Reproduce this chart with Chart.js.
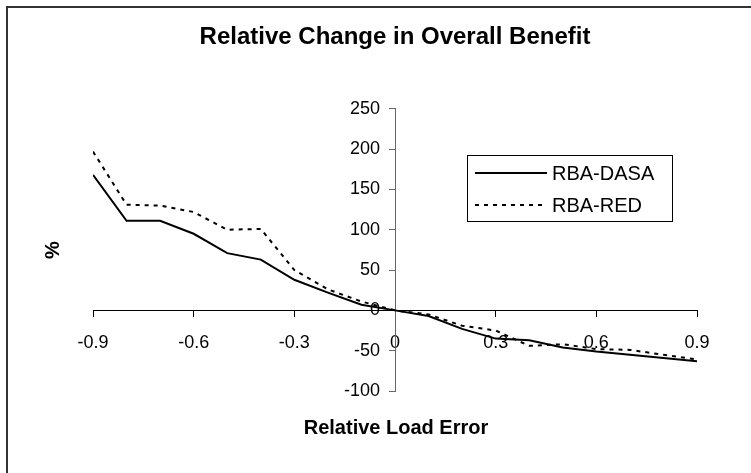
<!DOCTYPE html>
<html>
<head>
<meta charset="utf-8">
<title>Relative Change in Overall Benefit</title>
<script src="https://cdn.jsdelivr.net/npm/chart.js@4.4.1/dist/chart.umd.min.js"></script>
<style>
  html, body { margin: 0; padding: 0; background: #fff; overflow: hidden; }
  canvas { display: block; }
</style>
</head>
<body>
<canvas id="benefitChart" width="751" height="473"></canvas>
<script>
// values
const loadError = [-0.9, -0.8, -0.7, -0.6, -0.5, -0.4, -0.3, -0.2, -0.1, 0,
                   0.1, 0.2, 0.3, 0.4, 0.5, 0.6, 0.7, 0.8, 0.9];
const rbaDasa = [168, 111, 111, 95, 71, 63, 38, 22, 7, 0,
                 -7, -23, -35, -37, -46, -51, -55, -59, -63];
const rbaRed = [197, 131, 130, 122, 100, 101, 50, 26, 11, 0,
                -5, -19, -25, -44, -42, -48, -49, -55, -61];
const seriesNames = ['RBA-DASA', 'RBA-RED'];
const chartTitle = 'Relative Change in Overall Benefit';
const xTitle = 'Relative Load Error';
const yTitle = '%';

const FONT = "'Liberation Sans', Arial, Helvetica, sans-serif";
Chart.defaults.font.family = FONT;
Chart.defaults.color = '#000';

function toPoints(ys) {
  return loadError.map((x, i) => ({ x: x, y: ys[i] }));
}

// frame, axis titles and the boxed legend (Excel style)
const decorations = {
  id: 'decorations',
  beforeDraw(chart) {
    const ctx = chart.ctx;
    ctx.save();
    ctx.fillStyle = '#fff';
    ctx.fillRect(0, 0, chart.width, chart.height);
    ctx.fillStyle = '#333';
    ctx.fillRect(6, 6, chart.width - 6, 2);
    ctx.fillRect(6, 6, 2, chart.height - 6);
    ctx.restore();
  },
  afterDraw(chart) {
    const ctx = chart.ctx;
    ctx.save();
    ctx.fillStyle = '#000';
    ctx.font = 'bold 20px ' + FONT;
    ctx.textAlign = 'center';
    ctx.textBaseline = 'middle';
    ctx.fillText(xTitle, 396, 428);
    ctx.translate(53, 250);
    ctx.rotate(-Math.PI / 2);
    ctx.fillText(yTitle, 0, 0);
    ctx.restore();

    // legend box
    ctx.save();
    ctx.strokeStyle = '#000';
    ctx.lineWidth = 1;
    ctx.fillStyle = '#fff';
    ctx.fillRect(467.5, 155.5, 205, 66);
    ctx.strokeRect(467.5, 155.5, 205, 66);
    ctx.font = '20px ' + FONT;
    ctx.textAlign = 'left';
    ctx.textBaseline = 'middle';
    chart.data.datasets.forEach((ds, i) => {
      const y = 173 + i * 32;
      ctx.beginPath();
      ctx.setLineDash(ds.borderDash || []);
      ctx.lineWidth = ds.borderWidth;
      ctx.strokeStyle = ds.borderColor;
      ctx.moveTo(475, y);
      ctx.lineTo(547, y);
      ctx.stroke();
      ctx.setLineDash([]);
      ctx.fillStyle = '#000';
      ctx.fillText(ds.label, 552, y + 1);
    });
    ctx.restore();
  }
};

const ctx = document.getElementById('benefitChart').getContext('2d');
new Chart(ctx, {
  type: 'scatter',
  data: {
    datasets: [
      {
        label: seriesNames[0],
        data: toPoints(rbaDasa),
        showLine: true,
        borderColor: '#000',
        borderWidth: 2,
        pointRadius: 0,
        tension: 0,
      },
      {
        label: seriesNames[1],
        data: toPoints(rbaRed),
        showLine: true,
        borderColor: '#000',
        borderWidth: 2,
        borderDash: [4, 5],
        pointRadius: 0,
        tension: 0,
      },
    ],
  },
  options: {
    responsive: false,
    animation: false,
    events: [],
    layout: {
      padding: { left: 93, right: 54, top: 0, bottom: 82 },
    },
    plugins: {
      legend: { display: false },
      tooltip: { enabled: false },
      title: {
        display: true,
        text: chartTitle,
        font: { size: 24, weight: 'bold' },
        color: '#000',
        padding: { top: 23, bottom: 57 },
      },
    },
    scales: {
      x: {
        type: 'linear',
        min: -0.9,
        max: 0.9,
        position: { y: 0 },
        ticks: {
          stepSize: 0.3,
          padding: 16,
          font: { size: 18 },
          color: '#000',
          maxRotation: 0,
          autoSkip: false,
        },
        grid: {
          drawOnChartArea: false,
          drawTicks: true,
          tickLength: 6,
          color: '#000',
        },
        border: { color: '#000', width: 1 },
      },
      y: {
        type: 'linear',
        min: -100,
        max: 250,
        position: { x: 0 },
        ticks: {
          stepSize: 50,
          font: { size: 18 },
          color: '#000',
          callback: (v) => v + '   ',
        },
        grid: {
          drawOnChartArea: false,
          drawTicks: true,
          tickLength: 6,
          color: '#666',
        },
        border: { color: '#666', width: 1 },
      },
    },
  },
  plugins: [decorations],
});
</script>
</body>
</html>
